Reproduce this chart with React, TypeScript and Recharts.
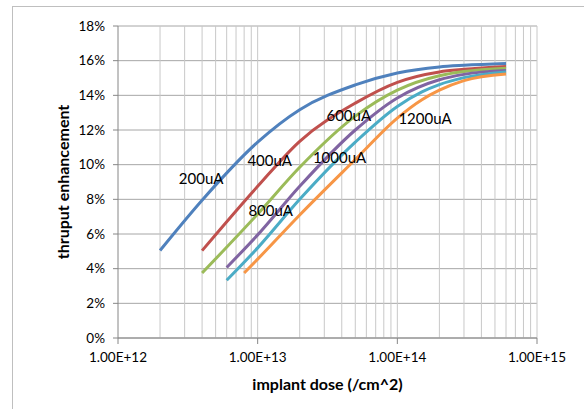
import { LineChart, Line, XAxis, YAxis, CartesianGrid, ReferenceLine, ReferenceDot, Label } from "recharts"

// implant dose (/cm^2) and thruput enhancement (%) per beam current
const dose200 = [2e12, 4e12, 1e13, 2e13, 5e13, 1e14, 2e14, 3e14, 6e14]
const gain200 = [5.05, 7.95, 11.3, 13.17, 14.6, 15.29, 15.64, 15.73, 15.83]

const dose400 = [4e12, 1e13, 2e13, 5e13, 1e14, 2e14, 3e14, 6e14]
const gain400 = [5.04, 8.75, 11.35, 13.55, 14.75, 15.35, 15.5, 15.67]

const dose600 = [4e12, 1e13, 2e13, 5e13, 1e14, 2e14, 3e14, 6e14]
const gain600 = [3.75, 7.15, 9.85, 12.8, 14.3, 15.13, 15.37, 15.56]

const dose800 = [6e12, 1e13, 2e13, 5e13, 1e14, 2e14, 3e14, 6e14]
const gain800 = [4.07, 5.95, 8.75, 12.0, 13.85, 14.9, 15.21, 15.44]

const dose1000 = [6e12, 1e13, 2e13, 5e13, 1e14, 1.5e14, 2e14, 3e14, 6e14]
const gain1000 = [3.33, 5.2, 8.0, 11.3, 13.36, 14.2, 14.62, 15.02, 15.35]

const dose1200 = [8e12, 1e13, 2e13, 5e13, 1e14, 1.5e14, 2e14, 3e14, 6e14]
const gain1200 = [3.75, 4.55, 7.1, 10.3, 12.69, 13.75, 14.3, 14.85, 15.23]

const xTicks = [1e12, 1e13, 1e14, 1e15]
const yTicks = [0, 2, 4, 6, 8, 10, 12, 14, 16, 18]

// 2..10 x each decade, for the light vertical grid
const minorDoses: number[] = []
for (const dec of [1e12, 1e13, 1e14]) {
  for (let m = 2; m <= 10; m++) minorDoses.push(m * dec)
}

// where the curve names sit (data coords)
const curveLabels = [
  { text: "200uA", x: 3.94e12, y: 9.19 },
  { text: "400uA", x: 1.22e13, y: 10.23 },
  { text: "800uA", x: 1.24e13, y: 7.35 },
  { text: "600uA", x: 4.49e13, y: 12.83 },
  { text: "1000uA", x: 3.86e13, y: 10.43 },
  { text: "1200uA", x: 1.58e14, y: 12.68 },
]

const zip = (xs: number[], ys: number[]) => xs.map((x, i) => ({ x, y: ys[i] }))

const series = [
  { name: "200uA", color: "#4F81BD", data: zip(dose200, gain200) },
  { name: "400uA", color: "#C0504D", data: zip(dose400, gain400) },
  { name: "600uA", color: "#9BBB59", data: zip(dose600, gain600) },
  { name: "800uA", color: "#8064A2", data: zip(dose800, gain800) },
  { name: "1000uA", color: "#4BACC6", data: zip(dose1000, gain1000) },
  { name: "1200uA", color: "#F79646", data: zip(dose1200, gain1200) },
]

const sci = (v: number) => {
  const e = Math.floor(Math.log10(v) + 1e-9)
  return `${(v / Math.pow(10, e)).toFixed(2)}E+${e}`
}

export default function App() {
  return (
    <div style={{ position: "absolute", left: 0, top: 0, width: 584, height: 409, overflow: "hidden", background: "#fff" }}>
      <div style={{ position: "absolute", left: 12, top: 6, width: 620, height: 440, border: "1px solid #bfbfbf" }} />
      <div style={{ position: "absolute", left: 0, top: 0 }}>
        <LineChart width={584} height={409} margin={{ top: 26, right: 47, bottom: 16, left: 48 }} style={{ fontFamily: "Lato" }}>
          <CartesianGrid vertical={false} stroke="#a6a6a6" strokeWidth={1} />
          {minorDoses.map(d => (
            <ReferenceLine key={d} x={d} stroke="#c8c8c8" strokeWidth={1} />
          ))}
          <XAxis
            dataKey="x"
            type="number"
            scale="log"
            domain={[1e12, 1e15]}
            ticks={xTicks}
            allowDataOverflow
            tickFormatter={sci}
            height={55}
            tickSize={6}
            tickMargin={8}
            stroke="#868686"
            tick={{ fill: "#000", fontSize: 13.5 }}
          >
            <Label value="implant dose (/cm^2)" position="insideBottom" offset={3} style={{ fontWeight: "bold", fontSize: 16, fill: "#000" }} />
          </XAxis>
          <YAxis
            type="number"
            domain={[0, 18]}
            ticks={yTicks}
            tickFormatter={v => `${v}%`}
            width={70}
            tickSize={5}
            tickMargin={8}
            stroke="#868686"
            tick={{ fill: "#000", fontSize: 13.5 }}
          >
            <Label value="thruput enhancement" angle={-90} position="insideLeft" offset={15} style={{ textAnchor: "middle", fontWeight: "bold", fontSize: 16, fill: "#000" }} />
          </YAxis>
          {series.map(s => (
            <Line
              key={s.name}
              data={s.data}
              dataKey="y"
              name={s.name}
              type="monotone"
              stroke={s.color}
              strokeWidth={3}
              dot={false}
              isAnimationActive={false}
            />
          ))}
          {curveLabels.map(l => (
            <ReferenceDot
              key={l.text}
              x={l.x}
              y={l.y}
              r={0}
              stroke="none"
              fill="none"
              label={{ value: l.text, position: "center", fill: "#000", fontSize: 15 }}
            />
          ))}
        </LineChart>
      </div>
    </div>
  )
}
